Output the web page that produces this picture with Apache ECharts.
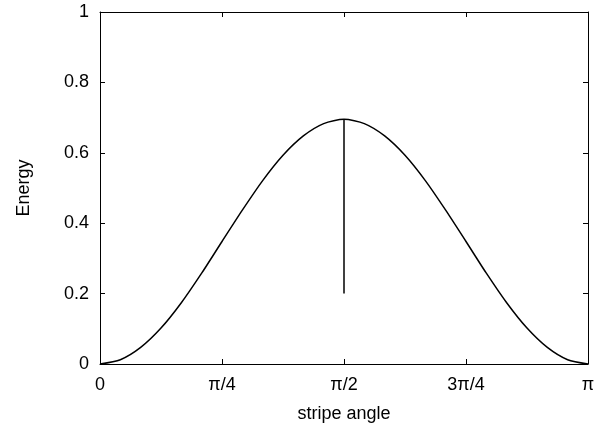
<!DOCTYPE html>
<html>
<head>
<meta charset="utf-8">
<script src="https://cdn.jsdelivr.net/npm/echarts@6/dist/echarts.min.js"></script>
<style>
html, body { margin: 0; padding: 0; background: #fff; }
#chart { width: 608px; height: 428px; }
</style>
</head>
<body>
<div id="chart"></div>
<script>
// x in units of pi, every pi/24
var angles = [0, 1/24, 2/24, 3/24, 4/24, 5/24, 6/24, 7/24, 8/24, 9/24, 10/24, 11/24, 12/24,
    13/24, 14/24, 15/24, 16/24, 17/24, 18/24, 19/24, 20/24, 21/24, 22/24, 23/24, 1];
var energy = [0, 0.012, 0.047, 0.102, 0.174, 0.258, 0.348, 0.437, 0.521, 0.593, 0.648, 0.683, 0.695,
    0.683, 0.648, 0.593, 0.521, 0.437, 0.348, 0.258, 0.174, 0.102, 0.047, 0.012, 0];
var markX = [0.5, 0.5];
var markY = [0.2, 0.695];
var xTickLabels = ['0', 'π/4', 'π/2', '3π/4', 'π'];
var yTickLabels = ['0', '0.2', '0.4', '0.6', '0.8', '1'];

var font = 'Liberation Sans, Arial, sans-serif';
var e = echarts.init(document.getElementById('chart'));

function frameAxis(extra) {
    var base = {
        type: 'value',
        axisLine: {show: true, onZero: false, lineStyle: {color: '#000', width: 1}},
        axisTick: {show: true, inside: true, length: 5, lineStyle: {color: '#000', width: 1}},
        splitLine: {show: false},
        axisLabel: {show: false}
    };
    for (var k in extra) base[k] = extra[k];
    return base;
}

e.setOption({
    animation: false,
    backgroundColor: '#fff',
    grid: {left: 100, right: 20, top: 12, bottom: 64},
    xAxis: [
        frameAxis({
            position: 'bottom', min: 0, max: 1, interval: 0.25,
            name: 'stripe angle', nameLocation: 'middle', nameGap: 41,
            nameTextStyle: {color: '#000', fontSize: 18, fontFamily: font},
            axisLabel: {
                show: true, color: '#000', fontSize: 18, fontFamily: font, margin: 12,
                formatter: function (v) { return xTickLabels[Math.round(v * 4)]; }
            }
        }),
        frameAxis({position: 'top', min: 0, max: 1, interval: 0.25})
    ],
    yAxis: [
        frameAxis({
            position: 'left', min: 0, max: 1, interval: 0.2,
            name: 'Energy', nameLocation: 'middle', nameGap: 67, nameRotate: 90,
            nameTextStyle: {color: '#000', fontSize: 18, fontFamily: font},
            axisLabel: {
                show: true, color: '#000', fontSize: 18, fontFamily: font, margin: 11,
                formatter: function (v) { return yTickLabels[Math.round(v * 5)]; }
            }
        }),
        frameAxis({position: 'right', min: 0, max: 1, interval: 0.2})
    ],
    series: [
        {
            type: 'line',
            data: angles.map(function (a, i) { return [a, energy[i]]; }),
            smooth: 0.25,
            showSymbol: false,
            lineStyle: {color: '#000', width: 1.5}
        },
        {
            type: 'line',
            data: markX.map(function (a, i) { return [a, markY[i]]; }),
            showSymbol: false,
            lineStyle: {color: '#000', width: 1.5}
        }
    ]
});
</script>
</body>
</html>
